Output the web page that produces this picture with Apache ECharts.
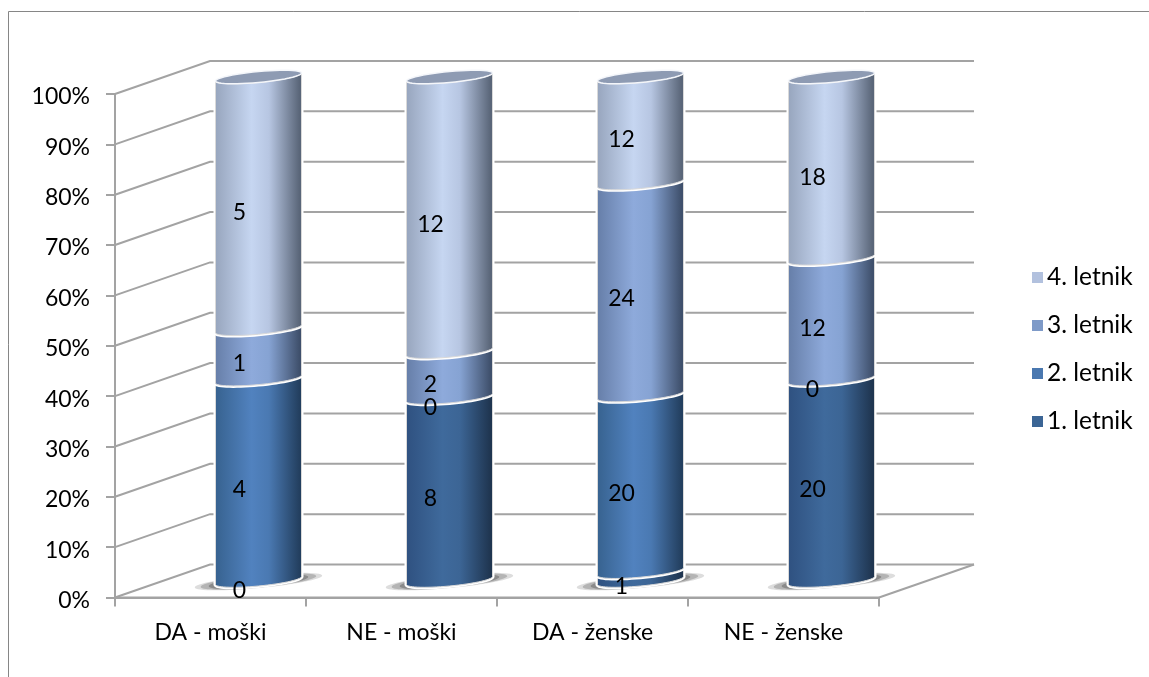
<!DOCTYPE html>
<html><head><meta charset="utf-8">
<style>html,body{margin:0;padding:0;background:#fff}#c{width:1149px;height:677px}</style>
<script src="https://cdn.jsdelivr.net/npm/echarts@6/dist/echarts.min.js"></script>
</head><body><div id="c"></div>
<script>
const categories = ['DA - moški','NE - moški','DA - ženske','NE - ženske'];
const letnik1 = [0,8,1,20];
const letnik2 = [4,0,20,0];
const letnik3 = [1,2,24,12];
const letnik4 = [5,12,12,18];
const seriesNames = ['1. letnik','2. letnik','3. letnik','4. letnik'];
const yTicks = [0,10,20,30,40,50,60,70,80,90,100];
const legendColors = ['#3b6595','#4a78b0','#7e9ac8','#b2c1de'];
const cylStops = [
 ['#2f5180','#3f6a9c','#3c6595','#1f3550'],
 ['#37628f','#5182bf','#4a79b2','#233f5f'],
 ['#667ea8','#8eaadb','#86a3d3','#3f506c'],
 ['#97a5bd','#c6d6f1','#b7c6e2','#5a6679']
];
const FONT = 'Lato, Carlito, "Noto Sans", sans-serif';
const all = [letnik1,letnik2,letnik3,letnik4];
const totals = categories.map((c,i)=>all.reduce((s,a)=>s+a[i],0));
const DX=95, DY=-33, BAR_DX=48, BAR_DY=-17, RX=43, RY=5.5, TILT=4;

function arc(cx,cy,from,to,n){const p=[];for(let i=0;i<=n;i++){const t=(from+(to-from)*i/n)*Math.PI/180;
 p.push([cx+RX*Math.cos(t), cy+RY*Math.sin(t)-TILT*Math.cos(t)]);}return p;}
function grad(st){return {type:'linear',x:0,y:0,x2:1,y2:0,colorStops:[
 {offset:0,color:st[0]},{offset:.42,color:st[1]},{offset:.62,color:st[2]},{offset:.97,color:st[3]},{offset:1,color:st[3]}]};}

function renderWall(params,api){
 const v=api.value(0), y=api.coord([0,v])[1], cs=params.coordSys;
 const L=cs.x, R=cs.x+cs.width, st={stroke:'#a3a3a3',lineWidth:2,fill:null};
 const ch=[
  {type:'polyline',shape:{points:[[L,y],[L+DX,y+DY],[R+DX,y+DY]]},style:st}
 ];
 if(v===0) ch.push({type:'polyline',shape:{points:[[R,y],[R+DX,y+DY]]},style:st},
   {type:'line',shape:{x1:L,y1:y,x2:R,y2:y},style:st});
 return {type:'group',children:ch};
}
function makeRender(si){return function(params,api){
 const cat=api.value(0), from=api.value(1), to=api.value(2), count=api.value(3);
 const b=api.coord([cat,from]), t=api.coord([cat,to]);
 const cx=b[0]+BAR_DX, yb=b[1]+BAR_DY, yt=t[1]+BAR_DY;
 const ch=[];
 if(si===0){
  const rot=5.4*Math.PI/180;
  [[64,6.5,'rgba(170,170,170,.4)'],[58,6.2,'rgba(140,140,140,.5)'],[50,6,'rgba(120,120,120,.7)']].forEach(e=>{
   ch.push({type:'ellipse',shape:{cx:0,cy:0,rx:e[0],ry:e[1]},x:cx,y:yb+1,rotation:rot,style:{fill:e[2]}});
  });
 }
 if(to>from){
  const top=arc(cx,yt,180,0,30), bot=arc(cx,yb,0,180,30);
  ch.push({type:'polygon',shape:{points:top.concat(bot)},
    style:{fill:'#fff',stroke:'#fff',lineWidth:4}});
  ch.push({type:'polygon',shape:{points:top.concat(bot)},
    style:{fill:grad(cylStops[si]),stroke:'#d9d9d9',lineWidth:1}});
  if(to>=99.99){
   ch.push({type:'polygon',shape:{points:arc(cx,yt,0,360,48)},
     style:{fill:'#8e9bb3',stroke:'#f4f6fa',lineWidth:1.5}});
  } else {
   ch.push({type:'polyline',shape:{points:top},style:{fill:null,stroke:'#fff',lineWidth:2}});
  }
 }
 ch.push({type:'text',z2:100,style:{text:String(count),x:cx-19,y:(yb+yt)/2+10,fill:'#000',
   font:'23px '+FONT,align:'center',verticalAlign:'middle'}});
 return {type:'group',children:ch};
};}

let base=categories.map(()=>0);
const barSeries=all.map((vals,si)=>{
 const data=vals.map((v,i)=>{const f=base[i]; const e=f+v/totals[i]*100; base[i]=e; return [i,f,e,v];});
 return {name:seriesNames[si],type:'custom',coordinateSystem:'cartesian2d',clip:false,silent:true,
  itemStyle:{color:legendColors[si]},encode:{x:0,y:[1,2]},data,renderItem:makeRender(si)};
});

const chart=echarts.init(document.getElementById('c'),null,{renderer:'canvas'});
chart.setOption({
 animation:false,backgroundColor:'#fff',
 graphic:[{type:'rect',shape:{x:8.5,y:11.5,width:1400,height:1000},style:{fill:null,stroke:'#868686',lineWidth:1},silent:true}],
 grid:{left:115,top:94,width:764,height:503.5},
 legend:{orient:'vertical',left:1027,top:260,itemWidth:11,itemHeight:11,itemGap:23,icon:'rect',itemStyle:{borderWidth:0},
  data:seriesNames.slice().reverse(),textStyle:{fontFamily:FONT,fontSize:24.5,color:'#000',padding:[0,0,0,-1]}},
 xAxis:{type:'category',data:categories,axisTick:{show:true,length:9,alignWithLabel:false,lineStyle:{color:'#a3a3a3',width:2}},
  axisLine:{lineStyle:{color:'#a3a3a3',width:2}},
  axisLabel:{margin:24,fontFamily:FONT,fontSize:23,color:'#000'},splitLine:{show:false}},
 yAxis:{type:'value',min:0,max:100,interval:10,axisLine:{show:true,lineStyle:{color:'#a3a3a3',width:2}},
  axisTick:{show:true,length:9,lineStyle:{color:'#a3a3a3',width:2}},splitLine:{show:false},
  axisLabel:{margin:25,formatter:v=>'{a|'+v+'%}',
    rich:{a:{fontFamily:FONT,fontSize:23,color:'#000',padding:[6,0,0,0]}}}},
 series:[{type:'custom',coordinateSystem:'cartesian2d',clip:false,silent:true,z:1,
   data:yTicks.map(v=>[v]),encode:{y:0},renderItem:renderWall}].concat(barSeries)
});
</script></body></html>
